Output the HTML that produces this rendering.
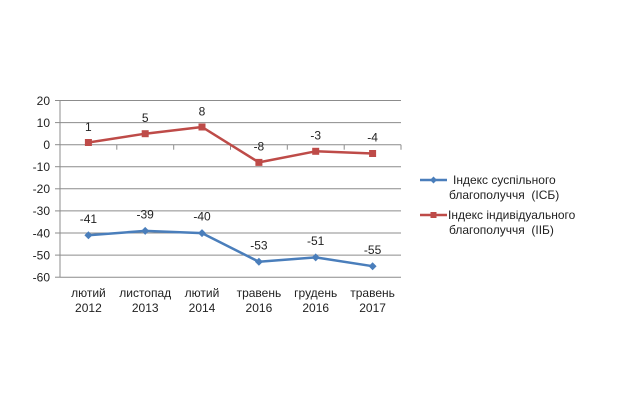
<!DOCTYPE html>
<html><head><meta charset="utf-8"><style>
html,body{margin:0;padding:0;background:#fff;}
svg{display:block;font-family:"Liberation Sans",Arial,sans-serif;}
</style></head><body>
<svg width="630" height="416" viewBox="0 0 630 416" xmlns="http://www.w3.org/2000/svg">
<rect width="630" height="416" fill="#fff"/>
<g stroke="#8c8c8c" stroke-width="1">
<line x1="60" y1="100.5" x2="401" y2="100.5"/>
<line x1="60" y1="122.6" x2="401" y2="122.6"/>
<line x1="60" y1="166.7" x2="401" y2="166.7"/>
<line x1="60" y1="188.8" x2="401" y2="188.8"/>
<line x1="60" y1="210.9" x2="401" y2="210.9"/>
<line x1="60" y1="233" x2="401" y2="233"/>
<line x1="60" y1="255.1" x2="401" y2="255.1"/>
<line x1="60" y1="277.2" x2="401" y2="277.2"/>
<line x1="60" y1="144.7" x2="401" y2="144.7"/>
<line x1="60" y1="100.5" x2="60" y2="277.2"/>
<line x1="55" y1="100.5" x2="60" y2="100.5"/><line x1="55" y1="122.6" x2="60" y2="122.6"/>
<line x1="55" y1="144.7" x2="60" y2="144.7"/><line x1="55" y1="166.7" x2="60" y2="166.7"/>
<line x1="55" y1="188.8" x2="60" y2="188.8"/><line x1="55" y1="210.9" x2="60" y2="210.9"/>
<line x1="55" y1="233" x2="60" y2="233"/><line x1="55" y1="255.1" x2="60" y2="255.1"/>
<line x1="55" y1="277.2" x2="60" y2="277.2"/>
<line x1="116.8" y1="144.7" x2="116.8" y2="149.7"/>
<line x1="173.7" y1="144.7" x2="173.7" y2="149.7"/>
<line x1="230.5" y1="144.7" x2="230.5" y2="149.7"/>
<line x1="287.3" y1="144.7" x2="287.3" y2="149.7"/>
<line x1="344.2" y1="144.7" x2="344.2" y2="149.7"/>
<line x1="401" y1="144.7" x2="401" y2="149.7"/>
</g>
<g font-size="12" fill="#222" text-anchor="end">
<text x="50" y="104.8">20</text>
<text x="50" y="126.9">10</text>
<text x="50" y="149">0</text>
<text x="50" y="171">-10</text>
<text x="50" y="193.1">-20</text>
<text x="50" y="215.2">-30</text>
<text x="50" y="237.3">-40</text>
<text x="50" y="259.4">-50</text>
<text x="50" y="281.5">-60</text>
</g>
<g font-size="12" fill="#222" text-anchor="middle">
<text x="88.4" y="297">лютий</text><text x="88.4" y="312">2012</text>
<text x="145.2" y="297">листопад</text><text x="145.2" y="312">2013</text>
<text x="202" y="297">лютий</text><text x="202" y="312">2014</text>
<text x="258.9" y="297">травень</text><text x="258.9" y="312">2016</text>
<text x="315.7" y="297">грудень</text><text x="315.7" y="312">2016</text>
<text x="372.6" y="297">травень</text><text x="372.6" y="312">2017</text>
</g>
<polyline fill="none" stroke="#be4b48" stroke-width="2.5" stroke-linejoin="round"
 points="88.4,142.5 145.2,133.7 202,127 258.9,162.4 315.7,151.3 372.6,153.5"/>
<g fill="#be4b48">
<rect x="84.9" y="139" width="7" height="7"/>
<rect x="141.7" y="130.2" width="7" height="7"/>
<rect x="198.5" y="123.5" width="7" height="7"/>
<rect x="255.4" y="158.9" width="7" height="7"/>
<rect x="312.2" y="147.8" width="7" height="7"/>
<rect x="369.1" y="150" width="7" height="7"/>
</g>
<polyline fill="none" stroke="#4a7ebb" stroke-width="2.5" stroke-linejoin="round"
 points="88.4,235.3 145.2,230.9 202,233.1 258.9,261.8 315.7,257.4 372.6,266.2"/>
<g fill="#4a7ebb">
<polygon points="88.4,231.3 92.4,235.3 88.4,239.3 84.4,235.3"/>
<polygon points="145.2,226.9 149.2,230.9 145.2,234.9 141.2,230.9"/>
<polygon points="202,229.1 206,233.1 202,237.1 198,233.1"/>
<polygon points="258.9,257.8 262.9,261.8 258.9,265.8 254.9,261.8"/>
<polygon points="315.7,253.4 319.7,257.4 315.7,261.4 311.7,257.4"/>
<polygon points="372.6,262.2 376.6,266.2 372.6,270.2 368.6,266.2"/>
</g>
<g font-size="12" fill="#222" text-anchor="middle">
<text x="88.4" y="131">1</text>
<text x="145.2" y="122">5</text>
<text x="202" y="115.5">8</text>
<text x="258.9" y="150.5">-8</text>
<text x="315.7" y="139.5">-3</text>
<text x="372.6" y="141.5">-4</text>
<text x="88.4" y="223">-41</text>
<text x="145.2" y="218.5">-39</text>
<text x="202" y="220.5">-40</text>
<text x="258.9" y="249.5">-53</text>
<text x="315.7" y="245">-51</text>
<text x="372.6" y="254">-55</text>
</g>
<line x1="420" y1="180" x2="447" y2="180" stroke="#4a7ebb" stroke-width="2.5"/>
<polygon points="433.5,176.5 437,180 433.5,183.5 430,180" fill="#4a7ebb"/>
<line x1="420" y1="215" x2="447" y2="215" stroke="#be4b48" stroke-width="2.5"/>
<rect x="430.5" y="212" width="6" height="6" fill="#be4b48"/>
<g font-size="12" fill="#222">
<text x="453" y="184">Індекс суспільного</text>
<text x="449" y="199">благополуччя&#160; (ІСБ)</text>
<text x="448" y="219">Індекс індивідуального</text>
<text x="449" y="234">благополуччя&#160; (ІІБ)</text>
</g>
</svg>
</body></html>
